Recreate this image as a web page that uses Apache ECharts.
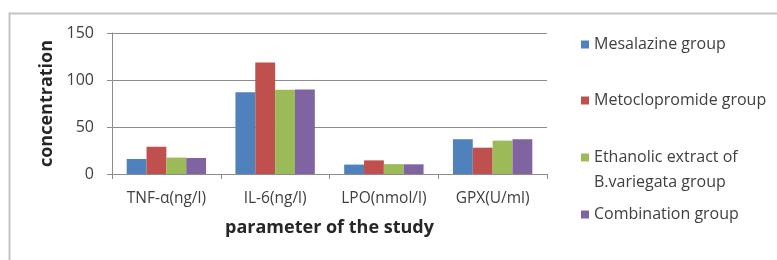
<!DOCTYPE html>
<html>
<head>
<meta charset="utf-8">
<script src="https://cdn.jsdelivr.net/npm/echarts@6/dist/echarts.min.js"></script>
<style>
  html, body { margin: 0; padding: 0; background: #fff; }
  #chart { width: 777px; height: 260px; }
</style>
</head>
<body>
<div id="chart"></div>
<script>
// 参数类别
var categories = ['TNF-α(ng/l)', 'IL-6(ng/l)', 'LPO(nmol/l)', 'GPX(U/ml)'];
// 各组数值
var mesalazine = [16, 87, 10, 37];
var metoclopramide = [29, 118.5, 14.5, 28];
var ethanolic = [17.5, 89.5, 10.5, 35.5];
var combination = [17, 90, 10.3, 37];
var seriesNames = ['Mesalazine group', 'Metoclopromide group', 'Ethanolic extract of B.variegata group', 'Combination group'];
var yTicks = [0, 50, 100, 150];

var font = 'Open Sans';
var legendTops = [27, 83, 115, 197];

function oneLegend(i) {
    var isLong = i === 2;
    return {
        orient: 'vertical',
        left: 576,
        top: legendTops[i],
        itemWidth: 8,
        itemHeight: 8,
        icon: 'rect',
        data: [seriesNames[i]],
        formatter: function (name) {
            // 首行留空，让色块对齐第一行文字
            return isLong ? ' \nEthanolic extract of\nB.variegata group' : name;
        },
        textStyle: {
            fontFamily: font,
            fontSize: 16,
            color: '#404040',
            lineHeight: 25
        }
    };
}

var option = {
    animation: false,
    color: ['#4F81BD', '#C0504D', '#9BBB59', '#8064A2'],
    graphic: [{
        type: 'rect',
        shape: { x: 9.5, y: 13.5, width: 900, height: 300 },
        style: { fill: 'none', stroke: '#c4c4c4', lineWidth: 2 },
        silent: true
    }],
    legend: [oneLegend(0), oneLegend(1), oneLegend(2), oneLegend(3)],
    grid: {
        left: 112,
        right: 230,
        top: 33,
        bottom: 86
    },
    xAxis: {
        type: 'category',
        data: categories,
        name: 'parameter of the study',
        nameLocation: 'middle',
        nameGap: 45,
        nameTextStyle: {
            fontFamily: font,
            fontSize: 18,
            fontWeight: 'bold',
            color: '#262626'
        },
        axisLine: { lineStyle: { color: '#8c8c8c', width: 1 } },
        axisTick: { show: true, length: 5, lineStyle: { color: '#8c8c8c' } },
        axisLabel: {
            interval: 0,
            hideOverlap: false,
            fontFamily: font,
            fontSize: 15.5,
            color: '#404040',
            margin: 17
        }
    },
    yAxis: {
        type: 'value',
        min: yTicks[0],
        max: yTicks[yTicks.length - 1],
        interval: 50,
        name: 'concentration',
        nameLocation: 'middle',
        nameRotate: 90,
        nameGap: 51,
        nameTextStyle: {
            fontFamily: font,
            fontSize: 18,
            fontWeight: 'bold',
            color: '#262626'
        },
        axisLine: { show: true, lineStyle: { color: '#8c8c8c', width: 1 } },
        axisTick: { show: true, length: 5, lineStyle: { color: '#8c8c8c' } },
        splitLine: { lineStyle: { color: '#8c8c8c', width: 1 } },
        axisLabel: {
            fontFamily: font,
            fontSize: 16,
            color: '#404040',
            margin: 18
        }
    },
    series: [
        { name: seriesNames[0], type: 'bar', data: mesalazine, barGap: '0%', barCategoryGap: '27%' },
        { name: seriesNames[1], type: 'bar', data: metoclopramide, barGap: '0%', barCategoryGap: '27%' },
        { name: seriesNames[2], type: 'bar', data: ethanolic, barGap: '0%', barCategoryGap: '27%' },
        { name: seriesNames[3], type: 'bar', data: combination, barGap: '0%', barCategoryGap: '27%' }
    ]
};

var myChart = echarts.init(document.getElementById('chart'));
myChart.setOption(option);
</script>
</body>
</html>
